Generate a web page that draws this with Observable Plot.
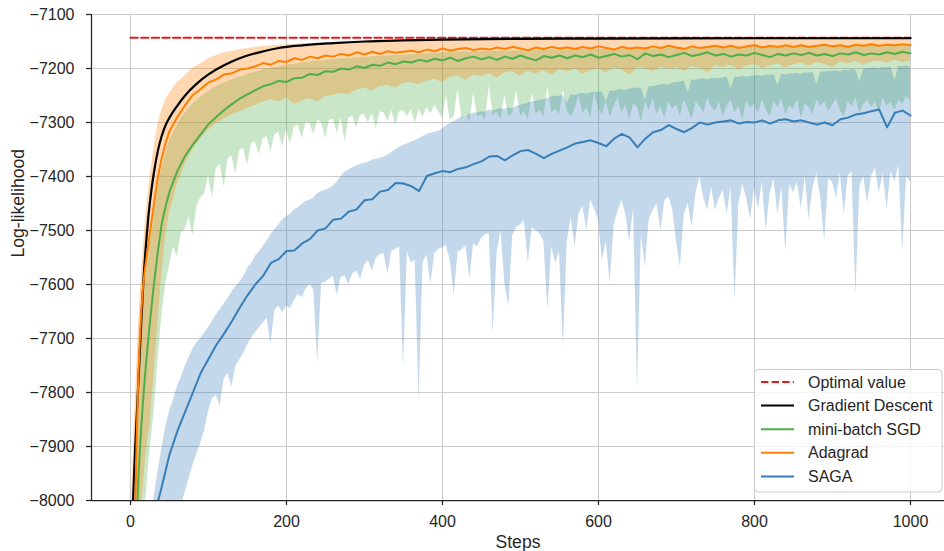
<!DOCTYPE html>
<html><head><meta charset="utf-8">
<script src="https://cdn.jsdelivr.net/npm/d3@7"></script>
<script src="https://cdn.jsdelivr.net/npm/@observablehq/plot@0.6"></script>
<style>
 html,body{margin:0;padding:0;background:#fff;}
 #wrap{position:relative;width:944px;height:551px;overflow:hidden;font-family:"Liberation Sans",Arial,sans-serif;}
 #legend{position:absolute;left:754px;top:369px;}
</style></head><body><div id="wrap"></div>
<script>
// ---------- data ----------
const xTicks = [0, 200, 400, 600, 800, 1000];
const yTicks = [-8000, -7900, -7800, -7700, -7600, -7500, -7400, -7300, -7200, -7100];
const xLabel = "Steps";
const yLabel = "Log-likelihood";
const seriesNames = ["Optimal value", "Gradient Descent", "mini-batch SGD", "Adagrad", "SAGA"];
const optimalValue = -7143;

const gdSteps = [0,2,4,6,8,10,12,14,17,20,23,27,30,35,40,45,50,60,70,85,100,120,140,160,190,220,260,300,350,400,500,600,700,800,900,1000];
const gdValues = [-8143,-8053,-7973,-7903,-7843,-7783,-7723,-7663,-7583,-7523,-7473,-7423,-7393,-7353,-7325,-7305,-7291,-7269,-7250,-7228,-7211,-7194,-7181,-7172,-7162,-7157,-7153,-7150,-7148,-7146.5,-7145,-7144.5,-7144.2,-7144,-7144,-7144];

// grid A: 0..50 early, then every 10 steps
const stepsA = [0,2,4,6,8,10,12,14,16,18,20,25,30,35,40,45,50].concat(d3.range(60, 1001, 10));
// grid B: 0..45 early, then every 5 steps
const stepsB = [0,2,4,6,8,10,12,14,16,18,20,25,30,35,40,45].concat(d3.range(50, 1001, 5));

const adaMean = [-8600,-8350,-8150,-8010,-7880,-7770,-7700,-7645,-7605,-7578,-7556,-7503,-7452,-7402,-7366,-7338,-7316,
 -7290,-7268,-7249,-7238,-7226,-7220,-7211,-7209,-7202,-7200,
 -7196,-7190,-7193,-7186,-7188,-7181,-7184,-7178,-7181,-7176,
 -7178,-7173,-7176,-7170,-7174,-7169,-7173,-7168,-7171,-7169,
 -7167,-7170,-7165,-7168,-7163,-7167,-7164,-7162,-7166,-7163,
 -7165,-7161,-7164,-7160,-7163,-7166,-7161,-7164,-7160,-7163,
 -7161,-7164,-7160,-7163,-7159,-7162,-7165,-7160,-7163,-7161,
 -7163,-7159,-7162,-7158,-7161,-7164,-7159,-7162,-7160,-7158,
 -7161,-7158,-7162,-7159,-7157,-7161,-7158,-7160,-7157,-7160,
 -7157,-7160,-7158,-7156,-7159,-7157,-7160,-7156,-7158,-7155,
 -7158,-7156,-7157,-7155,-7157];
const adaHi = [-8060,-7975,-7895,-7820,-7750,-7685,-7630,-7580,-7540,-7502,-7468,-7402,-7348,-7305,-7278,-7258,-7246,
 -7226,-7213,-7199,-7191,-7182,-7176,-7171,-7168,-7165,-7163,
 -7161,-7159,-7158,-7157,-7156,-7155,-7154,-7154,-7153,-7153,
 -7152,-7152,-7151,-7151,-7150,-7150,-7150,-7149,-7149,-7149,
 -7149,-7148,-7148,-7148,-7148,-7148,-7147,-7148,-7147,-7147,
 -7147,-7147,-7147,-7146,-7147,-7146,-7147,-7146,-7146,-7146,
 -7146,-7146,-7146,-7146,-7146,-7146,-7146,-7146,-7146,-7146,
 -7146,-7145,-7146,-7146,-7145,-7146,-7145,-7145,-7146,-7145,
 -7145,-7145,-7145,-7145,-7145,-7145,-7145,-7145,-7145,-7145,
 -7145,-7145,-7145,-7145,-7145,-7145,-7145,-7145,-7145,-7145,
 -7145,-7145,-7145,-7145,-7145];
const adaLo = [-9300,-9100,-8900,-8700,-8500,-8300,-8150,-8020,-7980,-7945,-7910,-7855,-7770,-7675,-7580,-7510,-7468,
 -7415,-7377,-7350,-7330,-7314,-7302,-7294,-7286,-7280,-7274,
 -7268,-7262,-7258,-7262,-7255,-7266,-7260,-7256,-7262,-7252,
 -7250,-7246,-7248,-7240,-7236,-7242,-7233,-7231,-7236,-7228,
 -7226,-7230,-7223,-7220,-7226,-7216,-7214,-7222,-7212,-7215,
 -7210,-7218,-7208,-7206,-7214,-7205,-7210,-7204,-7212,-7203,
 -7206,-7201,-7210,-7204,-7200,-7208,-7199,-7203,-7212,-7198,
 -7200,-7206,-7197,-7202,-7198,-7205,-7196,-7200,-7208,-7195,
 -7198,-7194,-7203,-7196,-7192,-7200,-7195,-7191,-7199,-7193,
 -7190,-7196,-7189,-7192,-7198,-7188,-7191,-7187,-7194,-7188,
 -7186,-7190,-7185,-7189,-7186];

const sgdMean = [-9200,-8800,-8450,-8200,-8050,-7960,-7907,-7860,-7818,-7780,-7745,-7668,-7600,-7540,-7488,-7455,-7428,
 -7390,-7362,-7341,-7322,-7303,-7290,-7277,-7266,-7256,-7248,
 -7240,-7233,-7229,-7223,-7225,-7218,-7217,-7210,-7212,-7205,
 -7206,-7200,-7202,-7196,-7199,-7193,-7195,-7189,-7192,-7187,
 -7189,-7184,-7187,-7182,-7185,-7180,-7186,-7181,-7178,-7183,
 -7179,-7184,-7178,-7182,-7176,-7181,-7185,-7177,-7180,-7176,
 -7181,-7176,-7179,-7174,-7180,-7177,-7173,-7178,-7175,-7183,
 -7172,-7177,-7174,-7179,-7175,-7171,-7177,-7174,-7170,-7176,
 -7173,-7178,-7174,-7176,-7171,-7175,-7179,-7173,-7176,-7172,
 -7175,-7171,-7176,-7173,-7177,-7172,-7174,-7170,-7175,-7172,
 -7174,-7170,-7173,-7169,-7172];
const sgdHi = [-8650,-8400,-8200,-8050,-7920,-7810,-7735,-7680,-7638,-7608,-7585,-7528,-7475,-7424,-7386,-7357,
 -7333,-7318,-7305,-7293,-7283,-7274,-7266,-7259,-7253,-7248,
 -7243,-7238,-7234,-7230,-7227,-7224,-7221,-7218,-7216,-7214,
 -7211,-7209,-7207,-7205,-7203,-7201,-7200,-7198,-7197,-7196,
 -7194,-7193,-7192,-7191,-7190,-7189,-7188,-7187,-7186,-7186,
 -7185,-7184,-7184,-7183,-7182,-7182,-7181,-7181,-7180,-7180,
 -7179,-7179,-7178,-7178,-7177,-7177,-7177,-7176,-7176,-7176,
 -7175,-7175,-7174,-7174,-7173,-7173,-7173,-7172,-7172,-7172,
 -7171,-7171,-7170,-7171,-7170,-7170,-7169,-7170,-7169,-7169,
 -7169,-7168,-7169,-7168,-7168,-7168,-7167,-7168,-7167,-7167,
 -7167,-7166,-7167,-7166,-7166,-7166,-7165,-7166,-7165,-7166,
 -7165,-7165,-7166,-7165,-7164,-7165,-7165,-7164,-7165,-7164,
 -7164,-7165,-7164,-7164,-7165,-7163,-7164,-7164,-7163,-7164,
 -7163,-7164,-7163,-7163,-7164,-7163,-7162,-7163,-7163,-7162,
 -7163,-7162,-7162,-7163,-7162,-7162,-7161,-7162,-7162,-7161,
 -7162,-7161,-7161,-7162,-7161,-7161,-7160,-7161,-7161,-7160,
 -7161,-7160,-7160,-7161,-7160,-7160,-7159,-7160,-7160,-7159,
 -7160,-7159,-7159,-7160,-7159,-7159,-7158,-7159,-7159,-7158,
 -7159,-7158,-7158,-7159,-7158,-7158,-7157,-7158,-7158,-7157,
 -7158,-7157,-7157,-7158,-7157,-7157,-7156,-7157,-7157,-7156,
 -7157];
const sgdLo = [-9600,-9400,-9200,-9000,-8800,-8600,-8420,-8260,-8130,-8040,-7990,-7905,-7840,-7745,-7660,-7600,
 -7565,-7530,-7548,-7505,-7498,-7475,-7510,-7455,-7440,-7432,
 -7398,-7440,-7385,-7378,-7420,-7368,-7362,-7395,-7352,-7348,
 -7380,-7340,-7335,-7360,-7330,-7326,-7355,-7322,-7318,-7345,
 -7312,-7340,-7308,-7305,-7330,-7300,-7302,-7322,-7296,-7300,
 -7330,-7296,-7294,-7320,-7290,-7335,-7292,-7288,-7310,-7286,
 -7285,-7300,-7284,-7312,-7280,-7282,-7298,-7278,-7305,-7280,
 -7278,-7290,-7276,-7302,-7275,-7290,-7272,-7284,-7268,-7280,
 -7292,-7250,-7296,-7288,-7238,-7294,-7285,-7300,-7245,-7290,
 -7286,-7296,-7232,-7288,-7280,-7295,-7250,-7290,-7284,-7240,
 -7288,-7280,-7295,-7245,-7285,-7278,-7290,-7235,-7282,-7276,
 -7285,-7240,-7280,-7290,-7275,-7250,-7284,-7272,-7292,-7245,
 -7275,-7285,-7262,-7290,-7270,-7255,-7282,-7268,-7296,-7265,
 -7272,-7300,-7262,-7278,-7256,-7285,-7270,-7292,-7262,-7275,
 -7268,-7288,-7258,-7275,-7295,-7262,-7270,-7284,-7255,-7272,
 -7280,-7262,-7290,-7268,-7258,-7282,-7270,-7296,-7260,-7274,
 -7266,-7284,-7258,-7276,-7290,-7262,-7272,-7256,-7286,-7268,
 -7276,-7258,-7292,-7266,-7272,-7285,-7258,-7270,-7262,-7280,
 -7268,-7256,-7278,-7290,-7262,-7270,-7254,-7282,-7266,-7258,
 -7272,-7262,-7284,-7255,-7270,-7262,-7278,-7258,-7266,-7252,
 -7260];

const sagaMean = [-8450,-8420,-8390,-8360,-8330,-8300,-8270,-8240,-8210,-8185,-8160,-8095,-8040,-8003,-7975,-7945,-7915,
 -7872,-7836,-7800,-7764,-7738,-7712,-7691,-7668,-7643,-7620,
 -7600,-7584,-7560,-7553,-7538,-7537,-7524,-7516,-7500,-7496,
 -7480,-7478,-7465,-7461,-7444,-7442,-7428,-7425,-7412,-7413,
 -7418,-7427,-7399,-7394,-7390,-7392,-7386,-7383,-7377,-7372,
 -7363,-7362,-7370,-7361,-7353,-7351,-7358,-7366,-7358,-7352,
 -7346,-7339,-7336,-7333,-7338,-7344,-7330,-7321,-7328,-7346,
 -7330,-7318,-7314,-7305,-7312,-7318,-7310,-7300,-7304,-7300,
 -7298,-7296,-7302,-7299,-7300,-7296,-7302,-7296,-7294,-7298,
 -7296,-7300,-7304,-7300,-7305,-7294,-7291,-7285,-7283,-7279,
 -7276,-7309,-7282,-7278,-7287];
const sagaHi = [-8700,-8640,-8580,-8520,-8460,-8400,-8340,-8280,-8220,-8170,-8120,-8060,-7998,-7950,-7905,-7865,
 -7835,-7815,-7790,-7772,-7752,-7735,-7720,-7708,-7700,-7690,
 -7680,-7668,-7656,-7646,-7636,-7626,-7614,-7604,-7596,-7586,
 -7570,-7562,-7548,-7540,-7530,-7520,-7508,-7498,-7490,-7480,
 -7474,-7470,-7462,-7458,-7452,-7446,-7444,-7440,-7432,-7428,
 -7426,-7422,-7418,-7410,-7400,-7392,-7388,-7384,-7380,-7378,
 -7375,-7374,-7370,-7368,-7366,-7364,-7360,-7356,-7350,-7346,
 -7342,-7340,-7336,-7334,-7330,-7326,-7322,-7320,-7318,-7316,
 -7312,-7306,-7302,-7298,-7294,-7290,-7288,-7285,-7283,-7282,
 -7280,-7281,-7277,-7279,-7276,-7274,-7276,-7273,-7274,-7270,
 -7268,-7266,-7264,-7262,-7261,-7259,-7258,-7255,-7253,-7251,
 -7252,-7250,-7265,-7248,-7250,-7247,-7246,-7248,-7245,-7244,
 -7244,-7243,-7262,-7241,-7242,-7240,-7239,-7241,-7238,-7237,
 -7236,-7237,-7258,-7233,-7234,-7232,-7230,-7229,-7231,-7227,
 -7226,-7225,-7223,-7245,-7221,-7222,-7220,-7219,-7221,-7218,
 -7218,-7219,-7217,-7216,-7238,-7215,-7217,-7214,-7216,-7215,
 -7214,-7213,-7215,-7212,-7213,-7211,-7232,-7210,-7212,-7210,
 -7210,-7209,-7211,-7208,-7209,-7207,-7230,-7206,-7207,-7205,
 -7205,-7204,-7206,-7203,-7204,-7202,-7203,-7225,-7202,-7200,
 -7200,-7199,-7201,-7198,-7199,-7197,-7222,-7196,-7197,-7195,
 -7198];
const sagaLo = [-9800,-9750,-9700,-9650,-9600,-9550,-9500,-9450,-9400,-9350,-9300,-9200,-9100,-9000,-8900,-8800,
 -8160,-8100,-8050,-8010,-7985,-7960,-7935,-7915,-7895,-7870,
 -7835,-7812,-7805,-7825,-7775,-7765,-7790,-7752,-7740,-7728,
 -7712,-7700,-7690,-7680,-7672,-7662,-7710,-7648,-7640,-7652,
 -7640,-7645,-7630,-7618,-7625,-7608,-7600,-7610,-7746,-7598,
 -7596,-7590,-7585,-7620,-7588,-7584,-7600,-7580,-7575,-7590,
 -7565,-7556,-7575,-7552,-7545,-7542,-7580,-7538,-7535,-7530,
 -7754,-7540,-7560,-7555,-7815,-7560,-7545,-7600,-7543,-7535,
 -7532,-7528,-7556,-7620,-7540,-7536,-7528,-7590,-7525,-7530,
 -7515,-7508,-7506,-7691,-7540,-7500,-7598,-7640,-7510,-7495,
 -7490,-7481,-7560,-7495,-7500,-7506,-7520,-7648,-7530,-7560,
 -7540,-7716,-7520,-7476,-7530,-7470,-7455,-7500,-7444,-7460,
 -7480,-7556,-7520,-7598,-7490,-7465,-7444,-7470,-7520,-7460,
 -7796,-7506,-7568,-7480,-7463,-7450,-7500,-7445,-7438,-7460,
 -7520,-7568,-7470,-7450,-7494,-7430,-7402,-7440,-7463,-7420,
 -7463,-7440,-7426,-7470,-7420,-7630,-7450,-7415,-7440,-7480,
 -7420,-7460,-7410,-7500,-7430,-7405,-7470,-7420,-7540,-7415,
 -7430,-7410,-7460,-7400,-7480,-7420,-7395,-7440,-7520,-7405,
 -7410,-7440,-7395,-7470,-7400,-7390,-7620,-7420,-7400,-7450,
 -7400,-7385,-7430,-7395,-7460,-7390,-7410,-7380,-7540,-7400,
 -7410];

const colors = {optimal: "#e41a1c", gd: "#000000", sgd: "#4daf4a", ada: "#ff7f00", saga: "#377eb8"};

// ---------- checks ----------
const checks = [["gd", gdValues, gdSteps], ["adaMean", adaMean, stepsA], ["adaHi", adaHi, stepsA], ["adaLo", adaLo, stepsA],
  ["sgdMean", sgdMean, stepsA], ["sagaMean", sagaMean, stepsA], ["sgdHi", sgdHi, stepsB], ["sgdLo", sgdLo, stepsB],
  ["sagaHi", sagaHi, stepsB], ["sagaLo", sagaLo, stepsB]];
for (const [n, v, s] of checks) if (v.length !== s.length) throw new Error(n + " length " + v.length + " vs " + s.length);

// ---------- tables ----------
const gdRows = gdSteps.map((s, i) => ({step: s, v: gdValues[i]}));
const optRows = [{step: 0, v: optimalValue}, {step: 1000, v: optimalValue}];
const rowsA = (vals) => stepsA.map((s, i) => ({step: s, v: vals[i]}));
const bandA = (lo, hi) => stepsA.map((s, i) => ({step: s, lo: lo[i], hi: hi[i]}));
const bandB = (lo, hi) => stepsB.map((s, i) => ({step: s, lo: lo[i], hi: hi[i]}));

const fmt = d => (d < 0 ? "\u2212" : "") + Math.abs(d);
const gridStyle = {stroke: "#cccccc", strokeOpacity: 1, strokeWidth: 1.1};

const chart = Plot.plot({
  width: 944, height: 551,
  marginLeft: 91, marginRight: 0, marginTop: 14, marginBottom: 51,
  style: {fontFamily: "'Liberation Sans', Arial, sans-serif", fontSize: "16px", color: "#262626", background: "#ffffff", overflow: "visible"},
  x: {domain: [-50, 1043.6]},
  y: {domain: [-8000, -7100]},
  marks: [
    Plot.gridX(xTicks, gridStyle),
    Plot.gridY(yTicks, gridStyle),
    Plot.areaY(bandB(sgdLo, sgdHi), {x: "step", y1: "lo", y2: "hi", fill: colors.sgd, fillOpacity: 0.3, clip: true}),
    Plot.areaY(bandA(adaLo, adaHi), {x: "step", y1: "lo", y2: "hi", fill: colors.ada, fillOpacity: 0.3, clip: true}),
    Plot.areaY(bandB(sagaLo, sagaHi), {x: "step", y1: "lo", y2: "hi", fill: colors.saga, fillOpacity: 0.3, clip: true}),
    Plot.lineY(optRows, {x: "step", y: "v", stroke: colors.optimal, strokeWidth: 2, strokeDasharray: "7.4,3.2", clip: true}),
    Plot.lineY(gdRows, {x: "step", y: "v", stroke: colors.gd, strokeWidth: 2.2, curve: "monotone-x", clip: true}),
    Plot.lineY(rowsA(sgdMean), {x: "step", y: "v", stroke: colors.sgd, strokeWidth: 2, clip: true}),
    Plot.lineY(rowsA(adaMean), {x: "step", y: "v", stroke: colors.ada, strokeWidth: 2, clip: true}),
    Plot.lineY(rowsA(sagaMean), {x: "step", y: "v", stroke: colors.saga, strokeWidth: 2, clip: true}),
    Plot.ruleY([-8000], {stroke: "#262626", strokeWidth: 1.25}),
    Plot.ruleX([-50], {stroke: "#262626", strokeWidth: 1.25}),
    Plot.axisX(xTicks, {anchor: "bottom", tickSize: 5, tickPadding: 10, tickFormat: d => String(d), label: null, stroke: "#262626", strokeWidth: 1.25}),
    Plot.axisY(yTicks, {anchor: "left", tickSize: 5, tickPadding: 12, tickFormat: fmt, label: null, stroke: "#262626", strokeWidth: 1.25}),
    Plot.text([xLabel], {frameAnchor: "bottom", dy: 41.5, fontSize: 17.6, lineAnchor: "middle", fill: "#262626"}),
    Plot.text([yLabel], {frameAnchor: "left", dx: -73.5, rotate: -90, fontSize: 17.6, lineAnchor: "middle", fill: "#262626"})
  ]
});
const wrap = document.getElementById("wrap");
wrap.append(chart);

// ---------- legend ----------
const legendKeys = ["optimal", "gd", "sgd", "ada", "saga"];
const rowY = [13, 36.6, 60.2, 83.8, 107.4];
const leg = d3.create("svg").attr("id", "legend").attr("width", 190).attr("height", 125)
  .style("font-family", "'Liberation Sans', Arial, sans-serif").style("font-size", "16px");
leg.append("rect").attr("x", 0.5).attr("y", 0.5).attr("width", 187.5).attr("height", 122.5).attr("rx", 4)
  .attr("fill", "#ffffff").attr("fill-opacity", 0.8).attr("stroke", "#cccccc");
seriesNames.forEach((name, i) => {
  const k = legendKeys[i];
  leg.append("line").attr("x1", 7).attr("x2", 40).attr("y1", rowY[i]).attr("y2", rowY[i])
    .attr("stroke", colors[k]).attr("stroke-width", 2)
    .attr("stroke-dasharray", k === "optimal" ? "7.4,3.2" : null);
  leg.append("text").attr("x", 54).attr("y", rowY[i]).attr("dy", "0.35em").attr("fill", "#262626").text(name);
});
wrap.append(leg.node());
</script>
</body></html>
